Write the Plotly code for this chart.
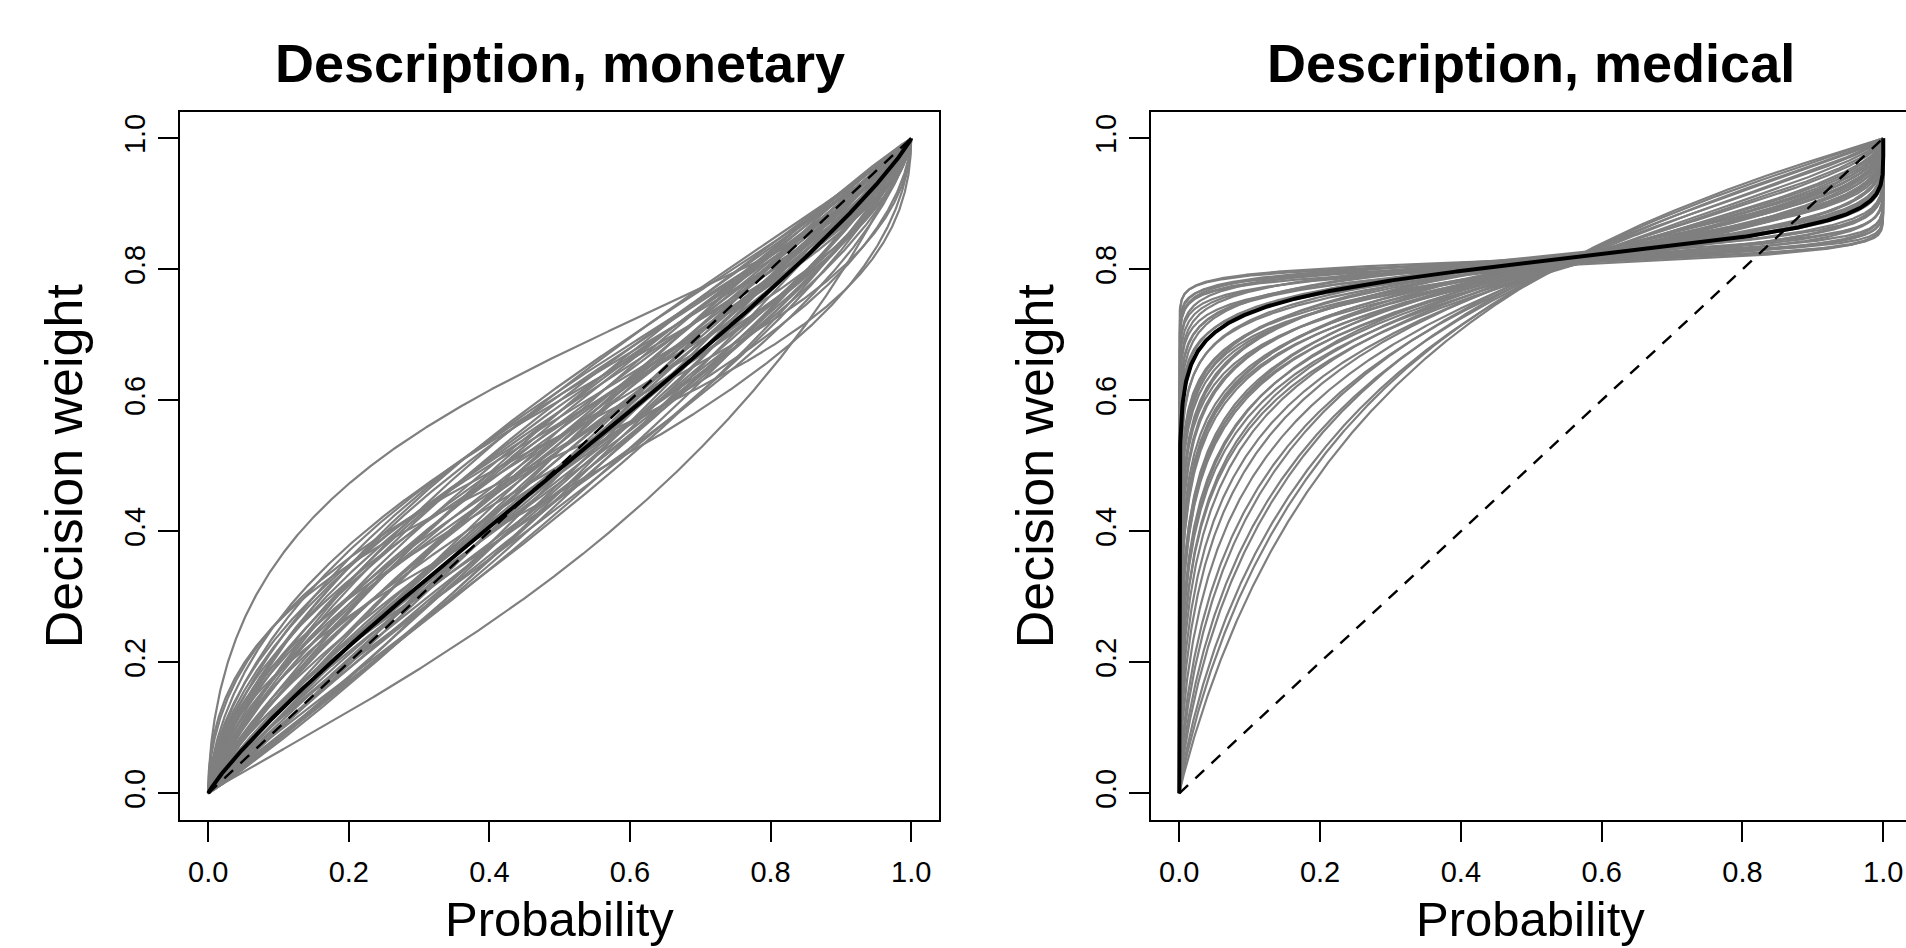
import numpy as np
import plotly.graph_objects as go

# ---------------- data ----------------
panel_titles = ["Description, monetary", "Description, medical"]
x_axis_title = "Probability"
y_axis_title = "Decision weight"
tick_vals = [0.0, 0.2, 0.4, 0.6, 0.8, 1.0]
tick_text = ["0.0", "0.2", "0.4", "0.6", "0.8", "1.0"]
identity_line = [0.0, 1.0]

# individual weighting-function parameters (curvature gamma, elevation delta), monetary
gamma_monetary = [0.59, 0.92, 0.50, 0.60, 0.55, 0.65, 0.68, 0.70, 0.66, 0.72,
                  0.74, 0.76, 0.78, 0.80, 0.82, 0.84, 0.85, 0.86, 0.88, 0.90,
                  0.91, 0.93, 0.95, 0.97, 0.99, 1.02, 1.05, 1.08, 0.79, 0.83,
                  0.87, 0.89, 0.94, 0.96, 1.00, 1.03, 0.81, 0.77, 0.75, 0.73,
                  0.71, 0.85, 0.88, 0.92, 0.98, 1.01, 0.84, 0.80, 0.90, 0.86,
                  0.94, 1.06, 0.69, 0.78, 0.82, 0.62, 0.64, 0.87]
delta_monetary = [2.03, 0.51, 1.07, 0.85, 1.20, 1.50, 1.35, 1.55, 1.20, 1.10,
                  1.40, 1.60, 1.25, 1.45, 1.65, 1.30, 1.15, 1.50, 1.05, 1.35,
                  0.95, 1.20, 0.88, 1.10, 0.80, 1.00, 0.85, 0.95, 0.90, 0.78,
                  0.85, 0.74, 0.76, 0.98, 1.15, 0.90, 1.10, 0.95, 0.82, 1.28,
                  0.98, 1.40, 1.60, 1.05, 1.25, 0.83, 0.92, 1.20, 0.82, 1.00,
                  1.40, 1.10, 1.12, 1.55, 0.86, 1.00, 1.30, 1.18]
group_gamma_monetary = 0.88
group_delta_monetary = 0.98

# individual weighting-function parameters, medical
gamma_medical = [0.06, 0.07, 0.065, 0.08, 0.075, 0.09, 0.085, 0.11, 0.10, 0.12,
                 0.14, 0.13, 0.16, 0.15, 0.18, 0.17, 0.19, 0.22, 0.21, 0.24,
                 0.23, 0.26, 0.25, 0.28, 0.27, 0.30, 0.29, 0.32, 0.31, 0.34,
                 0.33, 0.36, 0.35, 0.38, 0.37, 0.41, 0.40, 0.43, 0.42, 0.45,
                 0.47, 0.46, 0.50, 0.49, 0.53, 0.56, 0.60, 0.64, 0.69, 0.73,
                 0.77, 0.81, 0.86, 0.90, 0.95]
delta_medical = [4.30, 4.20, 4.40, 4.35, 4.10, 4.40, 4.25, 4.45, 4.15, 4.30,
                 4.45, 4.10, 4.35, 4.20, 4.50, 4.05, 4.30, 4.15, 4.40, 4.00,
                 4.30, 4.20, 3.95, 4.35, 4.05, 4.25, 3.90, 4.10, 4.30, 3.95,
                 4.15, 4.05, 3.85, 4.20, 3.95, 4.00, 3.80, 4.10, 3.90, 3.85,
                 4.00, 3.75, 3.90, 3.70, 3.85, 3.75, 3.80, 3.70, 3.65, 3.75,
                 3.60, 3.70, 3.55, 3.60, 3.56]
group_gamma_medical = 0.20
group_delta_medical = 4.27

# ---------------- helpers ----------------
p_grid = np.unique(np.concatenate([
    np.linspace(0.0, 1.0, 1201),
    np.logspace(-9, -2, 160),
    1.0 - np.logspace(-9, -2, 160),
]))


def weight(p, g, d):
    num = d * np.power(p, g)
    return num / (num + np.power(1.0 - p, g))


W, H = 1906, 948
FONT = "Liberation Sans, Arial, Helvetica, sans-serif"
GREY = "#7f7f7f"

# pixel geometry of the two plot boxes
L_X0, L_X1 = 180.1, 939.3
R_X0 = 1151.1
Y_TOP, Y_BOT = 112.1, 819.5
PX_PER_UNIT_R = 704.0
R_XMAX = -0.04 + (W - R_X0) / PX_PER_UNIT_R


def px(x):
    return x / W


def py(y):
    return 1 - y / H


fig = go.Figure()

panels = [
    ("x", "y", gamma_monetary, delta_monetary, group_gamma_monetary, group_delta_monetary),
    ("x2", "y2", gamma_medical, delta_medical, group_gamma_medical, group_delta_medical),
]

for xa, ya, gs, ds, gg, gd in panels:
    for g, d in zip(gs, ds):
        fig.add_trace(go.Scatter(x=p_grid, y=weight(p_grid, g, d), mode="lines",
                                 line=dict(color=GREY, width=2.2),
                                 xaxis=xa, yaxis=ya, showlegend=False, hoverinfo="skip"))
    fig.add_trace(go.Scatter(x=p_grid, y=weight(p_grid, gg, gd), mode="lines",
                             line=dict(color="black", width=4),
                             xaxis=xa, yaxis=ya, showlegend=False, hoverinfo="skip"))
    fig.add_trace(go.Scatter(x=identity_line, y=identity_line, mode="lines",
                             line=dict(color="black", width=2.4, dash="12px,10px"),
                             xaxis=xa, yaxis=ya, showlegend=False, hoverinfo="skip"))

tickfont = dict(family=FONT, size=29, color="black")
base_x = dict(tickvals=tick_vals, ticktext=tick_text, ticks="outside", ticklen=20,
              tickwidth=2, tickcolor="black", showline=True, linewidth=2,
              linecolor="black", mirror=True, showgrid=False, zeroline=False,
              tickfont=tickfont, ticklabelstandoff=6, fixedrange=True)
base_y = dict(base_x, range=[-0.04, 1.04], tickangle=-90, ticklabelstandoff=2,
              domain=[py(Y_BOT), py(Y_TOP)])

fig.update_layout(
    width=W, height=H, autosize=False,
    margin=dict(l=0, r=0, t=0, b=0, pad=0),
    paper_bgcolor="white", plot_bgcolor="white",
    xaxis=dict(base_x, range=[-0.04, 1.04], domain=[px(L_X0), px(L_X1)], anchor="y"),
    yaxis=dict(base_y, anchor="x"),
    xaxis2=dict(base_x, range=[-0.04, R_XMAX], domain=[px(R_X0), 1.0], anchor="y2"),
    yaxis2=dict(base_y, anchor="x2", mirror=False),
)

centers = [(L_X0 + L_X1) / 2, R_X0 + (L_X1 - L_X0) / 2]
ylab_x = [63.5, 63.5 + (R_X0 - L_X0)]
ann = []
for i, cx in enumerate(centers):
    ann.append(dict(text="<b>%s</b>" % panel_titles[i], x=px(cx), y=py(62.5),
                    xref="paper", yref="paper", showarrow=False,
                    xanchor="center", yanchor="middle",
                    font=dict(family=FONT, size=54, color="black")))
    ann.append(dict(text=x_axis_title, x=px(cx), y=py(919), xref="paper", yref="paper",
                    showarrow=False, xanchor="center", yanchor="middle",
                    font=dict(family=FONT, size=49, color="black")))
    ann.append(dict(text=y_axis_title, x=px(ylab_x[i]), y=py((Y_TOP + Y_BOT) / 2),
                    xref="paper", yref="paper", showarrow=False, textangle=-90,
                    xanchor="center", yanchor="middle",
                    font=dict(family=FONT, size=52, color="black")))
fig.update_layout(annotations=ann)

fig.write_html("out.html", config={"displayModeBar": False},
               post_script="document.body.style.margin='0';document.body.style.overflow='hidden';")
